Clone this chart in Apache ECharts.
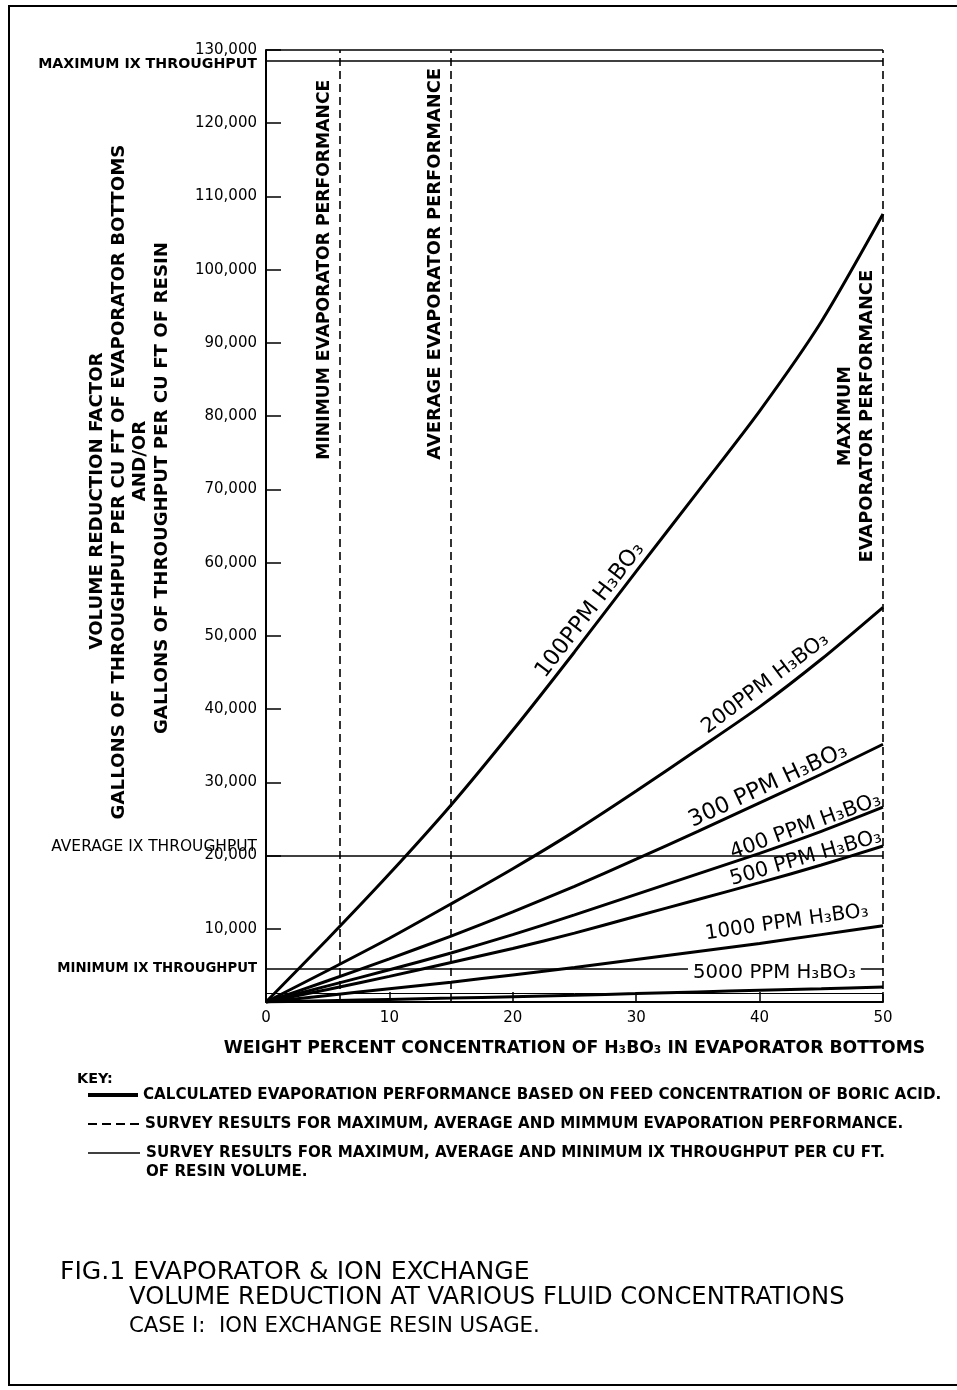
<!DOCTYPE html>
<html>
<head>
<meta charset="utf-8">
<title>Evaporator &amp; Ion Exchange Volume Reduction</title>
<script src="https://cdn.jsdelivr.net/npm/echarts@6/dist/echarts.min.js"></script>
<style>
  html, body { margin: 0; padding: 0; background: #fff; }
  #chart { width: 957px; height: 1390px; }
</style>
</head>
<body>
<div id="chart"></div>
<script>
// Weight percent H3BO3 in evaporator bottoms
const concentration = [0, 5, 10, 15, 20, 25, 30, 35, 40, 45, 50];

// Volume reduction factor (gal throughput per cu ft of bottoms) by feed concentration
const ppm100  = [0, 8600, 17500, 26900, 37100, 47800, 58800, 69700, 80700, 92900, 107600];
const ppm200  = [0, 4300, 8700, 13400, 18200, 23300, 28800, 34500, 40300, 46800, 53900];
const ppm300  = [0, 2900, 5900, 9000, 12300, 15800, 19500, 23300, 27200, 31100, 35200];
const ppm400  = [0, 2200, 4400, 6700, 9200, 11900, 14700, 17500, 20300, 23300, 26600];
const ppm500  = [0, 1700, 3500, 5400, 7300, 9400, 11700, 14000, 16300, 18700, 21300];
const ppm1000 = [0, 900, 1800, 2700, 3700, 4700, 5800, 6900, 8000, 9200, 10400];
const ppm5000 = [0, 170, 350, 530, 730, 930, 1150, 1380, 1600, 1800, 2050];

const curveNames = ['100PPM H₃BO₃', '200PPM H₃BO₃', '300 PPM H₃BO₃', '400 PPM H₃BO₃',
                    '500 PPM H₃BO₃', '1000 PPM H₃BO₃', '5000 PPM H₃BO₃'];
const curveValues = [ppm100, ppm200, ppm300, ppm400, ppm500, ppm1000, ppm5000];

// Survey results: IX throughput per cu ft of resin (max, average, min)
const ixLevels = [128600, 20000, 4500];
const ixNames = ['MAXIMUM IX THROUGHPUT', 'AVERAGE IX THROUGHPUT', 'MINIMUM IX THROUGHPUT'];

// Survey results: evaporator performance, wt % in bottoms (min, average, max)
const evapLevels = [6, 15, 50];
const evapNames = [['MINIMUM EVAPORATOR PERFORMANCE'], ['AVERAGE EVAPORATOR PERFORMANCE'],
                   ['MAXIMUM', 'EVAPORATOR PERFORMANCE']];

// Axis ranges and tick steps
const xMin = 0, xMax = 50, xStep = 10;
const yMin = 0, yMax = 130000, yStep = 10000;

const FONT = "'DejaVu Sans', sans-serif";
const measureCtx = document.createElement('canvas').getContext('2d');
function fitSize(text, width, weight) {
  measureCtx.font = (weight || 'normal') + ' 100px ' + FONT;
  return 100 * width / measureCtx.measureText(text).width;
}

const xTitle = 'WEIGHT PERCENT CONCENTRATION OF H₃BO₃ IN EVAPORATOR BOTTOMS';

const chart = echarts.init(document.getElementById('chart'), null, { renderer: 'canvas' });

const curveSeries = curveNames.map((name, i) => ({
  name: name,
  type: 'line',
  data: concentration.map((c, j) => [c, curveValues[i][j]]),
  smooth: 0.25,
  symbol: 'none',
  z: 5,
  lineStyle: { color: '#000', width: 3 }
}));

const option = {
  animation: false,
  backgroundColor: '#fff',
  grid: { left: 266, right: 74, top: 50, bottom: 388 },
  xAxis: {
    type: 'value', min: xMin, max: xMax, interval: xStep,
    name: xTitle, nameLocation: 'middle', nameGap: 38,
    nameTextStyle: { color: '#000', fontFamily: FONT, fontWeight: 'bold', fontSize: fitSize(xTitle, 702, 'bold') },
    axisLine: { lineStyle: { color: '#000', width: 2 } },
    axisTick: { inside: true, length: 10, lineStyle: { color: '#000', width: 1.5 } },
    axisLabel: { color: '#000', fontFamily: FONT, fontSize: 15, margin: 9 },
    splitLine: { show: false }
  },
  yAxis: {
    type: 'value', min: yMin, max: yMax, interval: yStep,
    axisLine: { show: true, lineStyle: { color: '#000', width: 2 } },
    axisTick: { show: true, inside: true, length: 15, lineStyle: { color: '#000', width: 1.5 } },
    axisLabel: {
      color: '#000', fontFamily: FONT, fontSize: 15, margin: 9,
      formatter: v => v === 0 ? '' : v.toLocaleString('en-US')
    },
    splitLine: { show: false }
  },
  series: [{
    name: 'frame',
    type: 'line',
    data: [],
    z: 3,
    markLine: {
      silent: true, symbol: 'none', animation: false,
      label: { show: false },
      data: [
        { yAxis: yMax, lineStyle: { type: 'solid', width: 1.5, color: '#000' } },
        { yAxis: 1200, lineStyle: { type: 'solid', width: 1, color: '#000' } },
        ...ixLevels.map(v => ({ yAxis: v, lineStyle: { type: 'solid', width: 1.6, color: '#000' } })),
        ...evapLevels.map(v => ({ xAxis: v, lineStyle: { type: [8, 5], width: 1.6, color: '#000' } }))
      ]
    }
  }].concat(curveSeries)
};

chart.setOption(option);

// ---- annotations placed through the chart's own scales ----
const toPx = (x, y) => chart.convertToPixel({ gridIndex: 0 }, [x, y]);
function valueAt(vals, x) {
  for (let j = 0; j < concentration.length - 1; j++) {
    const a = concentration[j], b = concentration[j + 1];
    if (x >= a && x <= b) return vals[j] + (vals[j + 1] - vals[j]) * (x - a) / (b - a);
  }
  return vals[vals.length - 1];
}
function text(str, x, y, opts) {
  opts = opts || {};
  const weight = opts.weight || 'normal';
  const size = opts.width ? fitSize(str, opts.width, weight) : (opts.size || 15);
  const style = {
    text: str, fill: '#000', fontFamily: FONT, fontWeight: weight, fontSize: size,
    align: opts.align || 'center', verticalAlign: 'middle'
  };
  if (opts.bg) { style.backgroundColor = opts.bg; style.padding = [1, 5]; }
  return { type: 'text', x: x, y: y, rotation: opts.rotation || 0, z: 50, style: style };
}
function line(x1, y1, x2, y2, width, dash) {
  return {
    type: 'line', z: 50, shape: { x1, y1, x2, y2 },
    style: { stroke: '#000', lineWidth: width, lineDash: dash || null }
  };
}

const g = [];

// page border
g.push({ type: 'rect', z: 60, shape: { x: 9, y: 6, width: 1000, height: 1379 },
         style: { fill: 'none', stroke: '#000', lineWidth: 2 } });

// curve labels along each line
const labelAt    = [27.1, 41.2, 41.1, 44.0, 44.0, 42.4, 41.2];
const labelOff   = [13, 15, 12, 10, 11, 17, 0];
const labelWidth = [164, 153, 172, 159, 157, 165, 163];
curveValues.forEach((vals, i) => {
  const xa = labelAt[i];
  if (i === curveValues.length - 1) {
    // sits on the minimum IX throughput line
    const p = toPx(xa, ixLevels[2]);
    g.push(text(curveNames[i], p[0], p[1] + 4, { width: labelWidth[i], bg: '#fff' }));
    return;
  }
  const p = toPx(xa, valueAt(vals, xa));
  const p1 = toPx(xa - 2, valueAt(vals, xa - 2));
  const p2 = toPx(xa + 2, valueAt(vals, xa + 2));
  let dx = p2[0] - p1[0], dy = p2[1] - p1[1];
  const len = Math.hypot(dx, dy); dx /= len; dy /= len;
  const nx = dy, ny = -dx;
  g.push(text(curveNames[i], p[0] + nx * labelOff[i], p[1] + ny * labelOff[i],
              { width: labelWidth[i], rotation: Math.atan2(-dy, dx) }));
});

// evaporator performance labels (vertical)
const evapAnchorY = [100000, 100800, 80000];
const evapWidths = [[380], [392], [100, 293]];
evapNames.forEach((lines, i) => {
  const p = toPx(evapLevels[i], evapAnchorY[i]);
  lines.forEach((s, k) => {
    const shift = lines.length === 1 ? 16 : (k === 0 ? 38 : 16);
    g.push(text(s, p[0] - shift, p[1], { width: evapWidths[i][k], weight: 'bold', rotation: Math.PI / 2 }));
  });
});

// IX throughput labels left of the axis
const ixDy = [4, -9, 0];
const ixW = [219, 206, 200];
const ixWeight = ['bold', 'normal', 'bold'];
ixLevels.forEach((v, i) => {
  const p = toPx(xMin, v);
  g.push(text(ixNames[i], p[0] - 9, p[1] + ixDy[i], { align: 'right', width: ixW[i], weight: ixWeight[i] }));
});

// y-axis title block
const yTitleSize = fitSize('GALLONS OF THROUGHPUT PER CU FT OF EVAPORATOR BOTTOMS', 675, 'bold');
const yTitle = [
  ['VOLUME REDUCTION FACTOR', 97, 501],
  ['GALLONS OF THROUGHPUT PER CU FT OF EVAPORATOR BOTTOMS', 119, 482],
  ['AND/OR', 140, 461],
  ['GALLONS OF THROUGHPUT PER CU FT OF RESIN', 162, 488]
];
yTitle.forEach(t => g.push(text(t[0], t[1], t[2], { size: yTitleSize, weight: 'bold', rotation: Math.PI / 2 })));

// key
const keySize = fitSize('CALCULATED EVAPORATION PERFORMANCE BASED ON FEED CONCENTRATION OF BORIC ACID.', 799, 'bold');
g.push(text('KEY:', 77, 1079, { align: 'left', size: keySize * 0.95, weight: 'bold' }));
g.push(line(88, 1095, 138, 1095, 4));
g.push(text('CALCULATED EVAPORATION PERFORMANCE BASED ON FEED CONCENTRATION OF BORIC ACID.', 143, 1095,
            { align: 'left', size: keySize, weight: 'bold' }));
g.push(line(88, 1124, 140, 1124, 1.8, [9, 5]));
g.push(text('SURVEY RESULTS FOR MAXIMUM, AVERAGE AND MIMMUM EVAPORATION PERFORMANCE.', 145, 1124,
            { align: 'left', size: keySize, weight: 'bold' }));
g.push(line(88, 1153, 140, 1153, 1.5));
g.push(text('SURVEY RESULTS FOR MAXIMUM, AVERAGE AND MINIMUM IX THROUGHPUT PER CU FT.', 146, 1153,
            { align: 'left', size: keySize, weight: 'bold' }));
g.push(text('OF RESIN VOLUME.', 146, 1172, { align: 'left', size: keySize, weight: 'bold' }));

// figure caption
g.push(text('FIG.1 EVAPORATOR & ION EXCHANGE', 60, 1272, { align: 'left', width: 470 }));
g.push(text('VOLUME REDUCTION AT VARIOUS FLUID CONCENTRATIONS', 129, 1298, { align: 'left', width: 716 }));
g.push(text('CASE I:  ION EXCHANGE RESIN USAGE.', 129, 1326, { align: 'left', width: 411 }));

chart.setOption({ graphic: g });
</script>
</body>
</html>
